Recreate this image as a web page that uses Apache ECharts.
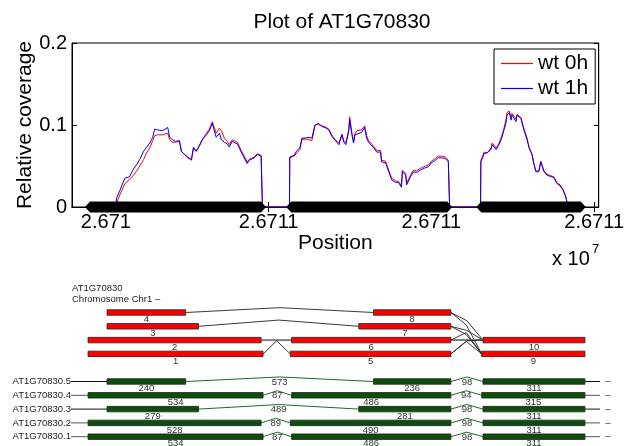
<!DOCTYPE html>
<html>
<head>
<meta charset="utf-8">
<script src="https://cdn.jsdelivr.net/npm/echarts@6/dist/echarts.min.js"></script>
<style>
  html, body { margin: 0; padding: 0; background: #fff; }
  #chart { width: 627px; height: 446px; }
</style>
</head>
<body>
<div id="chart"></div>
<script>
// ---- coverage plot data (position in bp, relative coverage) ----
const covPos = [
  26709939, 26710028, 26710034, 26710043, 26710058, 26710073, 26710083, 26710095, 26710104, 26710116,
  26710125, 26710135, 26710144, 26710150, 26710159, 26710165, 26710174, 26710180, 26710190, 26710196,
  26710205, 26710214, 26710226, 26710232, 26710242, 26710251, 26710263, 26710269, 26710278, 26710287,
  26710297, 26710309, 26710318, 26710327, 26710333, 26710339, 26710349, 26710355, 26710364, 26710373,
  26710379, 26710388, 26710394, 26710404, 26710416, 26710425, 26710434, 26710440, 26710456, 26710465,
  26710471, 26710477, 26710480, 26710481, 26710564, 26710565, 26710578, 26710587, 26710596, 26710602,
  26710612, 26710624, 26710633, 26710639, 26710642, 26710648, 26710654, 26710664, 26710673, 26710685,
  26710694, 26710703, 26710716, 26710719, 26710725, 26710731, 26710737, 26710746, 26710749, 26710755,
  26710761, 26710765, 26710771, 26710786, 26710795, 26710798, 26710801, 26710807, 26710813, 26710823,
  26710832, 26710844, 26710847, 26710859, 26710869, 26710878, 26710890, 26710899, 26710908, 26710911,
  26710921, 26710924, 26710936, 26710945, 26710954, 26710966, 26710982, 26710991, 26711000, 26711012,
  26711021, 26711031, 26711043, 26711052, 26711055, 26711056, 26711151, 26711152, 26711162, 26711171,
  26711183, 26711187, 26711199, 26711208, 26711217, 26711223, 26711229, 26711232, 26711239, 26711245,
  26711248, 26711254, 26711260, 26711263, 26711269, 26711275, 26711284, 26711294, 26711300, 26711309,
  26711315, 26711321, 26711330, 26711336, 26711340, 26711346, 26711355, 26711367, 26711376, 26711385,
  26711395, 26711404, 26711413, 26711416, 26711419, 26711474
];
const cov1h = [
  0, 0, .012, .020, .035, .037, .045, .052, .058, .068,
  .073, .078, .085, .095, .094, .092, .093, .092, .097, .085,
  .082, .080, .081, .068, .064, .061, .058, .073, .068, .075,
  .083, .088, .093, .102, .104, .085, .090, .082, .079, .077,
  .073, .080, .081, .077, .067, .060, .053, .057, .060, .064,
  .065, .062, .062, 0, 0, .061, .063, .069, .072, .084,
  .084, .085, .084, .084, .100, .102, .102, .098, .097, .094,
  .086, .082, .076, .078, .088, .079, .076, .092, .107, .090,
  .078, .088, .090, .091, .097, .098, .084, .079, .081, .072,
  .067, .067, .055, .054, .043, .033, .030, .030, .024, .043,
  .039, .027, .037, .043, .042, .045, .048, .049, .054, .057,
  .060, .060, .059, .055, .055, 0, 0, .055, .065, .066,
  .070, .076, .070, .076, .085, .094, .102, .112, .115, .106,
  .112, .110, .104, .112, .110, .108, .094, .082, .072, .064,
  .052, .043, .043, .055, .054, .043, .039, .037, .036, .029,
  .026, .021, .012, .006, 0, 0
];
const cov0h = [
  0, 0, .006, .015, .028, .034, .038, .044, .050, .058,
  .066, .072, .081, .087, .088, .086, .088, .088, .090, .082,
  .079, .079, .080, .068, .064, .060, .057, .071, .068, .074,
  .082, .090, .095, .104, .106, .090, .096, .093, .084, .080,
  .076, .082, .083, .079, .069, .062, .055, .058, .061, .065,
  .066, .063, .062, 0, 0, .060, .062, .066, .070, .082,
  .083, .082, .081, .083, .098, .101, .102, .099, .098, .095,
  .088, .083, .078, .080, .089, .081, .078, .094, .110, .092,
  .080, .089, .093, .094, .099, .101, .087, .081, .083, .074,
  .069, .069, .057, .056, .045, .035, .032, .031, .026, .045,
  .041, .029, .039, .045, .044, .047, .050, .051, .056, .059,
  .062, .062, .061, .057, .057, 0, 0, .057, .067, .066,
  .072, .078, .072, .078, .088, .096, .106, .115, .117, .110,
  .114, .113, .107, .113, .112, .109, .096, .084, .073, .065,
  .053, .044, .044, .056, .055, .044, .040, .038, .037, .030,
  .027, .022, .013, .007, 0, 0
];
// exon blocks drawn on the position axis
const exonStart = [26709936, 26710554, 26711138];
const exonEnd = [26710492, 26711064, 26711474];
const xTickValues = [26710000, 26710500, 26711000, 26711500];
const xTickLabels = ['2.671', '2.6711', '2.6711', '2.6711'];

// ---- gene model data (bp from gene start) ----
const featureIds = ['1', '2', '3', '4', '5', '6', '7', '8', '9', '10'];
const featureStart = [0, 0, 58, 58, 617, 621, 826, 871, 1201, 1205];
const featureEnd = [534, 528, 337, 298, 1107, 1107, 1107, 1107, 1516, 1516];
const featureRow = [3, 2, 1, 0, 3, 2, 1, 0, 3, 2];
// [fromX, fromRow, toX, toRow, peakRow]
const featureJunctions = [
  [298, 0, 871, 0, -0.35], [337, 1, 826, 1, 0.55], [528, 2, 621, 2, 2], [534, 3, 617, 3, 2.05],
  [1107, 0, 1205, 2, 0.6], [1107, 0, 1201, 3, 0.9], [1107, 1, 1205, 2, 1.3], [1107, 1, 1201, 3, 1.6],
  [1107, 2, 1205, 2, 2], [1107, 2, 1201, 3, 1.45], [1107, 3, 1205, 2, 2.05], [1107, 3, 1201, 3, 2.1]
];
const transcriptNames = ['AT1G70830.5', 'AT1G70830.4', 'AT1G70830.3', 'AT1G70830.2', 'AT1G70830.1'];
const transcriptStart = [58, 0, 58, 0, 0];
const transcriptSegments = [
  [240, 573, 236, 98, 311],
  [534, 87, 486, 94, 315],
  [279, 489, 281, 98, 311],
  [528, 89, 490, 98, 311],
  [534, 87, 486, 98, 311]
];
const geneEnd = 1516;

const FONT = '"Liberation Sans", Arial, Helvetica, sans-serif';

// build boxes / introns for the gene model
let boxes = [];
let introns = [];
featureIds.forEach((id, i) => {
  boxes.push({ s: featureStart[i], e: featureEnd[i], row: featureRow[i], text: id, fill: '#ff0000' });
});
transcriptSegments.forEach((segs, t) => {
  let row = 5 + t;
  let x = transcriptStart[t];
  segs.forEach((len, k) => {
    if (k % 2 === 0) {
      boxes.push({ s: x, e: x + len, row: row, text: String(len), fill: '#0b4f0b' });
    } else {
      introns.push({ s: x, e: x + len, row: row, text: String(len) });
    }
    x += len;
  });
});

let chart = echarts.init(document.getElementById('chart'));

let option = {
  animation: false,
  textStyle: { fontFamily: FONT },
  title: {
    text: 'Plot of AT1G70830',
    left: 337,
    top: 7,
    textAlign: 'center',
    textStyle: { fontFamily: FONT, fontSize: 21, fontWeight: 'normal', color: '#000' }
  },
  legend: {
    data: [
      { name: 'wt 0h', icon: 'rect', itemStyle: { color: '#ff0000', borderWidth: 0 } },
      { name: 'wt 1h', icon: 'rect', itemStyle: { color: '#0000ff', borderWidth: 0 } }
    ],
    orient: 'vertical',
    left: 494,
    top: 49,
    padding: [4, 7, 5, 7],
    itemGap: 4,
    itemWidth: 32,
    itemHeight: 1.2,
    borderColor: '#000',
    borderWidth: 1,
    borderRadius: 0,
    backgroundColor: '#fff',
    textStyle: { fontFamily: FONT, fontSize: 21, color: '#000' }
  },
  graphic: [
    { type: 'text', left: 552, top: 249, style: { text: 'x 10', fontFamily: FONT, fontSize: 20, fill: '#000' } },
    { type: 'text', left: 592, top: 243, style: { text: '7', fontFamily: FONT, fontSize: 13, fill: '#000' } },
    { type: 'text', left: 72, top: 283, style: { text: 'AT1G70830', fontFamily: FONT, fontSize: 9.5, fill: '#222' } },
    { type: 'text', left: 72, top: 294, style: { text: 'Chromosome Chr1 \u2013', fontFamily: FONT, fontSize: 9.5, fill: '#222' } }
  ],
  grid: [
    { left: 72, right: 26, top: 43, height: 164, show: true, borderColor: '#000', borderWidth: 1, backgroundColor: '#fff' },
    { left: 71, right: 27, top: 305.6, height: 138 }
  ],
  xAxis: [
    {
      gridIndex: 0, type: 'value', min: 26709896, max: 26711514,
      name: 'Position', nameLocation: 'middle', nameGap: 26, nameMoveOverlap: false,
      nameTextStyle: { fontFamily: FONT, fontSize: 21, color: '#000' },
      axisLine: { lineStyle: { color: '#000' } },
      axisTick: { inside: true, length: 5, customValues: xTickValues, lineStyle: { color: '#000' } },
      axisLabel: {
        customValues: xTickValues, margin: 5, fontFamily: FONT, fontSize: 20, color: '#000',
        formatter: (v) => xTickLabels[xTickValues.indexOf(v)]
      },
      splitLine: { show: false }
    },
    {
      gridIndex: 0, type: 'value', position: 'top', min: 26709896, max: 26711514,
      axisLine: { lineStyle: { color: '#000' } },
      axisTick: { inside: true, length: 5, customValues: xTickValues, lineStyle: { color: '#000' } },
      axisLabel: { show: false },
      splitLine: { show: false }
    },
    {
      gridIndex: 1, type: 'value', min: -52, max: 1562, show: false
    }
  ],
  yAxis: [
    {
      gridIndex: 0, type: 'value', min: 0, max: 0.2, interval: 0.1,
      name: 'Relative coverage', nameLocation: 'middle', nameGap: 36, nameMoveOverlap: false,
      nameTextStyle: { fontFamily: FONT, fontSize: 21, color: '#000' },
      axisLine: { show: true, lineStyle: { color: '#000' } },
      axisTick: { show: true, inside: true, length: 5, lineStyle: { color: '#000' } },
      axisLabel: { margin: 5, fontFamily: FONT, fontSize: 20, color: '#000' },
      splitLine: { show: false }
    },
    {
      gridIndex: 0, type: 'value', position: 'right', min: 0, max: 0.2, interval: 0.1,
      axisLine: { show: true, lineStyle: { color: '#000' } },
      axisTick: { show: true, inside: true, length: 5, lineStyle: { color: '#000' } },
      axisLabel: { show: false },
      splitLine: { show: false }
    },
    {
      gridIndex: 1, type: 'value', min: -0.5, max: 9.5, inverse: true, show: false
    }
  ],
  series: [
    {
      name: 'wt 0h', type: 'line', xAxisIndex: 0, yAxisIndex: 0,
      data: covPos.map((p, i) => [p, cov0h[i]]),
      symbol: 'none', lineStyle: { color: '#ff0000', width: 1 }, itemStyle: { color: '#ff0000' }, z: 2
    },
    {
      name: 'wt 1h', type: 'line', xAxisIndex: 0, yAxisIndex: 0,
      data: covPos.map((p, i) => [p, cov1h[i]]),
      symbol: 'none', lineStyle: { color: '#0000ff', width: 1 }, itemStyle: { color: '#0000ff' }, z: 3
    },
    {
      // black exon blocks on the position axis
      type: 'custom', xAxisIndex: 0, yAxisIndex: 0, clip: false, z: 5,
      data: exonStart.map((s, i) => [s, exonEnd[i]]),
      renderItem: function (params, api) {
        let a = api.coord([api.value(0), 0]);
        let b = api.coord([api.value(1), 0]);
        let h = 5.5, tip = 5;
        return {
          type: 'polygon',
          shape: { points: [[a[0], a[1]], [a[0] + tip, a[1] - h], [b[0] - tip, b[1] - h], [b[0], b[1]], [b[0] - tip, b[1] + h], [a[0] + tip, a[1] + h]] },
          style: { fill: '#000' }
        };
      }
    },
    {
      // leader lines, transcript names, strand marks
      type: 'custom', xAxisIndex: 2, yAxisIndex: 2, clip: false,
      data: transcriptNames.map((n, t) => [transcriptStart[t], 5 + t]),
      renderItem: function (params, api) {
        let row = api.value(1);
        let p0 = api.coord([-52, row]);
        let p1 = api.coord([api.value(0), row]);
        let p2 = api.coord([geneEnd, row]);
        let p3 = api.coord([1562, row]);
        let p4 = api.coord([1586, row]);
        let col = api.value(0) > 0 ? '#111' : '#555';
        return {
          type: 'group',
          children: [
            { type: 'line', shape: { x1: p0[0], y1: p0[1], x2: p1[0], y2: p1[1] }, style: { stroke: col, lineWidth: 1 } },
            { type: 'line', shape: { x1: p2[0], y1: p2[1], x2: p3[0], y2: p3[1] }, style: { stroke: col, lineWidth: 1 } },
            { type: 'text', style: { text: transcriptNames[params.dataIndex], x: p0[0], y: p0[1], align: 'right', verticalAlign: 'middle', fontFamily: FONT, fontSize: 9.5, fill: '#222' } },
            { type: 'text', style: { text: '\u2013', x: p4[0], y: p4[1], align: 'center', verticalAlign: 'middle', fontFamily: FONT, fontSize: 9.5, fill: '#222' } }
          ]
        };
      }
    },
    {
      // junction lines between exon features
      type: 'custom', xAxisIndex: 2, yAxisIndex: 2, clip: false,
      data: featureJunctions,
      renderItem: function (params, api) {
        let a = api.coord([api.value(0), api.value(1)]);
        let b = api.coord([api.value(2), api.value(3)]);
        let m = api.coord([(api.value(0) + api.value(2)) / 2, api.value(4)]);
        let flat = api.value(1) === api.value(3) && api.value(4) === api.value(1);
        return {
          type: 'polyline',
          shape: { points: [a, m, b] },
          style: { stroke: flat ? '#808080' : '#222', lineWidth: flat ? 2 : 0.9, fill: null }
        };
      }
    },
    {
      // intron arcs with lengths
      type: 'custom', xAxisIndex: 2, yAxisIndex: 2, clip: false,
      data: introns.map((d) => [d.s, d.e, d.row]),
      renderItem: function (params, api) {
        let d = introns[params.dataIndex];
        let a = api.coord([api.value(0), api.value(2)]);
        let b = api.coord([api.value(1), api.value(2)]);
        let m = api.coord([(api.value(0) + api.value(1)) / 2, api.value(2) - 0.33]);
        return {
          type: 'group',
          children: [
            { type: 'polyline', shape: { points: [a, m, b] }, style: { stroke: '#1f6b1f', lineWidth: 1, fill: null } },
            { type: 'text', style: { text: d.text, x: (a[0] + b[0]) / 2, y: a[1] + 0.5, align: 'center', verticalAlign: 'middle', fontFamily: FONT, fontSize: 9.5, fill: '#333' } }
          ]
        };
      }
    },
    {
      // exon boxes with labels
      type: 'custom', xAxisIndex: 2, yAxisIndex: 2, clip: false,
      data: boxes.map((b) => [b.s, b.e, b.row]),
      renderItem: function (params, api) {
        let d = boxes[params.dataIndex];
        let a = api.coord([api.value(0), api.value(2)]);
        let b = api.coord([api.value(1), api.value(2)]);
        return {
          type: 'group',
          children: [
            { type: 'rect', shape: { x: a[0], y: a[1] - 2.75, width: b[0] - a[0], height: 5.5 }, style: { fill: d.fill, stroke: '#222', lineWidth: 0.8 } },
            { type: 'text', style: { text: d.text, x: (a[0] + b[0]) / 2, y: a[1] + 7, align: 'center', verticalAlign: 'middle', fontFamily: FONT, fontSize: 9.5, fill: '#333' } }
          ]
        };
      }
    }
  ]
};

chart.setOption(option);
</script>
</body>
</html>
